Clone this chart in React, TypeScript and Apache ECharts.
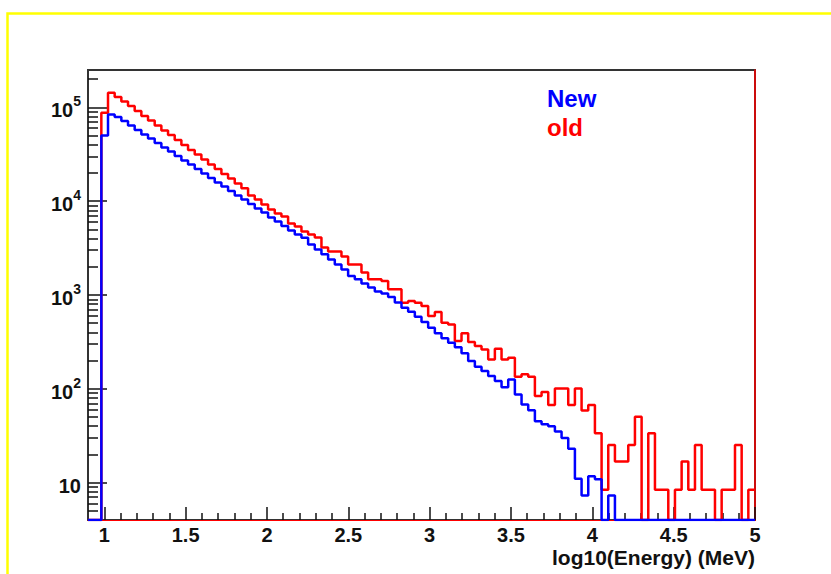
import React, { useEffect, useRef } from 'react';
import * as echarts from 'echarts';

// Histogram binning (100 bins from 0.9 to 5)
const X_MIN = 0.9;
const X_MAX = 5;
const BIN_WIDTH = 0.041;

// Y axis range (log)
const Y_MIN = 4;
const Y_MAX = 250000;

// Bin contents (0 = empty bin)
const NEW_COUNTS = [
  0, 0, 50100, 83800, 78900, 71500, 64000, 57300, 51300, 46500,
  41700, 37300, 33800, 30300, 27100, 24600, 22000, 19700, 17700, 15800,
  14300, 12800, 11500, 10400, 9340, 8360, 7580, 6710, 6080, 5440,
  4880, 4420, 4080, 3460, 3060, 2710, 2390, 2120, 1870, 1590,
  1470, 1330, 1200, 1090, 1040, 955, 834, 732, 661, 585,
  517, 449, 390, 345, 310, 277, 239, 198, 172, 155,
  137, 121, 104, 126, 87, 68, 59, 45, 42, 40,
  35, 30, 23, 11, 7.3, 11.7, 10.9, 0, 7.3, 0,
  0, 0, 0, 0, 0, 0, 0, 0, 0, 0,
  0, 0, 0, 0, 0, 0, 0, 0, 0, 0,
];

const OLD_COUNTS = [
  0, 0, 87400, 142700, 128700, 115300, 103200, 91300, 80800, 72300,
  64000, 56600, 50700, 44900, 39700, 35100, 31400, 27800, 24600, 22000,
  19500, 17400, 15400, 13700, 11500, 10400, 9200, 8160, 7400, 6870,
  5790, 5380, 4760, 4420, 4110, 3210, 2910, 2910, 2580, 2120,
  2120, 1740, 1470, 1470, 1410, 1150, 1150, 828, 861, 828,
  762, 596, 658, 507, 486, 323, 390, 315, 286, 263,
  206, 268, 206, 215, 134.4, 142.8, 134.4, 84, 92.4, 67.2,
  100.8, 100.8, 67.2, 100.8, 58.8, 67.2, 33.6, 8.4, 25.2, 16.8,
  16.8, 25.2, 50.4, 0, 33.6, 8.4, 8.4, 0, 8.4, 16.8,
  8.4, 25.2, 8.4, 8.4, 0, 8.4, 8.4, 25.2, 0, 8.4,
];

// Tick labels
const X_TICK_LABELS = [1, 1.5, 2, 2.5, 3, 3.5, 4, 4.5, 5];
const X_MINOR_TICKS = [
  1.1, 1.2, 1.3, 1.4, 1.6, 1.7, 1.8, 1.9, 2.1, 2.2, 2.3, 2.4, 2.6, 2.7, 2.8, 2.9,
  3.1, 3.2, 3.3, 3.4, 3.6, 3.7, 3.8, 3.9, 4.1, 4.2, 4.3, 4.4, 4.6, 4.7, 4.8, 4.9,
];
const Y_TICK_VALUES = [10, 100, 1000, 10000, 100000];
const Y_MINOR_MULTIPLIERS = [2, 3, 4, 5, 6, 7, 8, 9];
const X_TITLE = 'log10(Energy) (MeV)';

const LEGEND_ITEMS = [
  { text: 'New', color: '#0000ff' },
  { text: 'old', color: '#ff0000' },
];

const FONT = '"Liberation Sans", Arial, Helvetica, sans-serif';

function toSteps(counts: number[]): number[][] {
  const pts = counts.map((c, i) => [X_MIN + i * BIN_WIDTH, c > 0 ? c : Y_MIN]);
  const last = counts[counts.length - 1];
  pts.push([X_MAX, last > 0 ? last : Y_MIN]);
  return pts;
}

function yMinorTicks(): number[] {
  const out: number[] = [];
  for (let d = 0; d <= 5; d++) {
    for (const m of Y_MINOR_MULTIPLIERS) {
      const v = m * Math.pow(10, d);
      if (v >= Y_MIN && v <= Y_MAX) out.push(v);
    }
  }
  return out;
}

export default function App() {
  const ref = useRef<HTMLDivElement>(null);

  useEffect(() => {
    if (!ref.current) return;
    const chart = echarts.init(ref.current, null, { renderer: 'svg' });

    const grid = { left: 88, right: 76, top: 70, bottom: 54 };
    const tickColor = '#111';

    const option: any = {
      animation: false,
      backgroundColor: '#ffffff',
      grid: {
        ...grid,
        show: true,
        borderColor: '#333',
        borderWidth: 2,
        backgroundColor: 'transparent',
        containLabel: false,
        outerBoundsMode: 'none',
      },
      xAxis: [
        {
          type: 'value',
          min: X_MIN,
          max: X_MAX,
          position: 'bottom',
          splitLine: { show: false },
          axisLine: { show: true, onZero: false, lineStyle: { color: '#ff0000', width: 1 } },
          axisTick: {
            show: true,
            inside: true,
            length: 13,
            customValues: X_TICK_LABELS,
            lineStyle: { color: tickColor, width: 1.5 },
          },
          axisLabel: {
            show: true,
            customValues: X_TICK_LABELS,
            margin: 5,
            color: '#111',
            fontSize: 20,
            lineHeight: 20,
            fontWeight: 'bold',
            fontFamily: FONT,
            formatter: (v: number) => String(v),
          },
        },
        {
          type: 'value',
          min: X_MIN,
          max: X_MAX,
          position: 'bottom',
          splitLine: { show: false },
          axisLine: { show: false, onZero: false },
          axisTick: {
            show: true,
            inside: true,
            length: 7,
            customValues: X_MINOR_TICKS,
            lineStyle: { color: tickColor, width: 1.5 },
          },
          axisLabel: { show: false },
        },
      ],
      yAxis: [
        {
          type: 'log',
          logBase: 10,
          min: Y_MIN,
          max: Y_MAX,
          position: 'left',
          splitLine: { show: false },
          axisLine: { show: false },
          axisTick: {
            show: true,
            inside: true,
            length: 19,
            customValues: Y_TICK_VALUES,
            lineStyle: { color: tickColor, width: 1.5 },
          },
          axisLabel: {
            show: true,
            customValues: Y_TICK_VALUES,
            margin: 7,
            formatter: (v: number) => {
              const e = Math.round(Math.log10(v));
              return e === 1 ? '{b|10}' : '{b|10}{s|' + e + '}';
            },
            rich: {
              b: {
                fontSize: 20,
                fontWeight: 'bold',
                fontFamily: FONT,
                color: '#111',
                lineHeight: 26,
                verticalAlign: 'bottom',
              },
              s: {
                fontSize: 14,
                fontWeight: 'bold',
                fontFamily: FONT,
                color: '#111',
                lineHeight: 26,
                verticalAlign: 'top',
              },
            },
          },
        },
        {
          type: 'log',
          logBase: 10,
          min: Y_MIN,
          max: Y_MAX,
          position: 'left',
          splitLine: { show: false },
          axisLine: { show: false },
          axisTick: {
            show: true,
            inside: true,
            length: 10,
            customValues: yMinorTicks(),
            lineStyle: { color: tickColor, width: 1.5 },
          },
          axisLabel: { show: false },
        },
        {
          type: 'log',
          logBase: 10,
          min: Y_MIN,
          max: Y_MAX,
          position: 'right',
          splitLine: { show: false },
          axisLine: { show: true, lineStyle: { color: '#ff0000', width: 1.5 } },
          axisTick: { show: false },
          axisLabel: { show: false },
        },
      ],
      series: [
        {
          name: 'old',
          type: 'line',
          step: 'end',
          xAxisIndex: 0,
          yAxisIndex: 0,
          data: toSteps(OLD_COUNTS),
          showSymbol: false,
          symbol: 'none',
          clip: true,
          lineStyle: { color: '#ff0000', width: 2.5 },
          z: 3,
        },
        {
          name: 'New',
          type: 'line',
          step: 'end',
          xAxisIndex: 0,
          yAxisIndex: 0,
          data: toSteps(NEW_COUNTS),
          showSymbol: false,
          symbol: 'none',
          clip: true,
          lineStyle: { color: '#0000ff', width: 2.5 },
          z: 4,
        },
      ],
      graphic: [
        {
          type: 'rect',
          silent: true,
          shape: { x: 7.5, y: 13.5, width: 900, height: 700 },
          style: { fill: 'none', stroke: '#ffff00', lineWidth: 2.5 },
          z: 100,
        },
        {
          type: 'text',
          x: 755,
          y: 557,
          style: {
            text: X_TITLE,
            fill: '#111',
            fontSize: 21,
            lineHeight: 21,
            fontWeight: 'bold',
            fontFamily: FONT,
            align: 'right',
            verticalAlign: 'middle',
          },
        },
        ...LEGEND_ITEMS.map((item, i) => ({
          type: 'text',
          x: 547,
          y: 98 + i * 29,
          style: {
            text: item.text,
            fill: item.color,
            fontSize: 24,
            fontWeight: 'bold',
            fontFamily: FONT,
            align: 'left',
            verticalAlign: 'middle',
          },
        })),
      ],
    };

    chart.setOption(option);
    return () => chart.dispose();
  }, []);

  return (
    <div
      ref={ref}
      style={{ position: 'absolute', left: 0, top: 0, width: 831, height: 574, background: '#fff' }}
    />
  );
}
